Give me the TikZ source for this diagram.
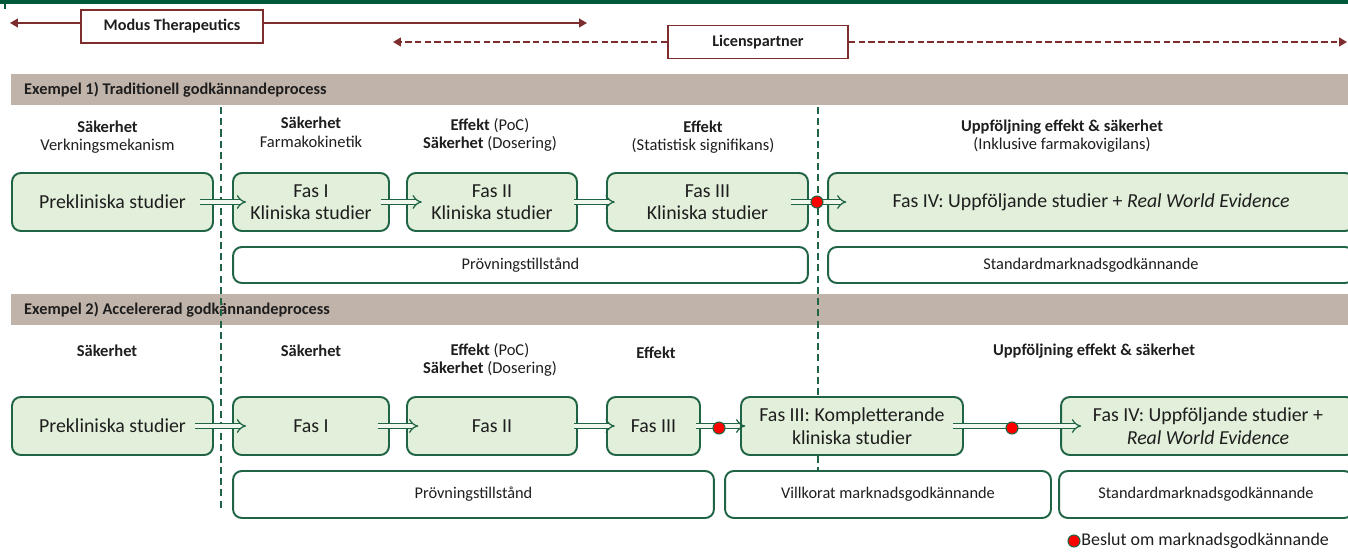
\documentclass[tikz,border=0pt]{standalone}
\usepackage{fontspec}
\setmainfont{Carlito}
\usetikzlibrary{arrows.meta, positioning, calc}
\definecolor{vertfonce}{RGB}{31,100,68}
\definecolor{vertclair}{RGB}{226,239,218}
\definecolor{bandecolor}{RGB}{192,179,169}
\definecolor{bordeaux}{RGB}{125,45,45}
\definecolor{titrecolor}{RGB}{0,88,58}
\definecolor{textecolor}{RGB}{30,30,30}

\begin{document}
\begin{tikzpicture}[x=0.02cm, y=-0.02cm, text=textecolor,
    fas/.style={draw=vertfonce, line width=1.1pt, fill=vertclair, rounded corners=5pt, minimum height=1.16cm, inner sep=0pt, align=center, font=\fontsize{11.3}{12.8}\selectfont},
    tillstand/.style={draw=vertfonce, line width=1.1pt, fill=white, rounded corners=5pt, inner sep=0pt, font=\fontsize{9.3}{11}\selectfont},
    rubrik/.style={align=center, font=\fontsize{9.4}{10.6}\selectfont},
    partbox/.style={draw=bordeaux, line width=0.8pt, fill=white, minimum width=3.64cm, minimum height=0.66cm, font=\fontsize{9.2}{11}\selectfont\bfseries},
    partpil/.style={draw=bordeaux, line width=0.9pt, -{Triangle[length=4.5pt, width=5pt]}},
    pil/.style={draw=vertfonce, line width=0.7pt, double=vertclair!50!white, double distance=2pt, -{Implies}},
    gransen/.style={draw=vertfonce, line width=1.1pt, dash pattern=on 4pt off 2.4pt},
    beslut/.style={circle, draw=vertfonce, line width=0.6pt, fill=red, minimum size=0.24cm, inner sep=0pt}]
    \useasboundingbox (0,0) rectangle (1348,551);

    % Titelrad (avskuren)
    \fill[titrecolor] (0,0) rectangle (1348,4);
    \fill[titrecolor] (4,0) rectangle (6,9);

    % === Aktörer ===
    \node[partbox] (modus) at (172,26.5) {Modus Therapeutics};
    \coordinate (modusV) at (10,23);
    \coordinate (modusH) at (587,23);
    \draw[partpil] (modus.west |- modusV) -- (modusV);
    \draw[partpil] (modus.east |- modusH) -- (modusH);

    \node[partbox, minimum width=3.6cm] (licens) at (758,42) {Licenspartner};
    \coordinate (licensV) at (393,42);
    \coordinate (licensH) at (1347,42);
    \draw[partpil, dash pattern=on 3.8pt off 1.8pt] (licens.west) -- (licensV);
    \draw[partpil, dash pattern=on 3.8pt off 1.8pt] (licens.east) -- (licensH);

    % Band
    \fill[bandecolor] (11,74) rectangle (1348,105);
    \node[anchor=west, font=\fontsize{9.3}{11}\selectfont\bfseries] (band1) at (18,90) {Exempel 1) Traditionell godkännandeprocess};
    \fill[bandecolor] (11,294) rectangle (1348,325);
    \node[anchor=west, font=\fontsize{9.3}{11}\selectfont\bfseries] (band2) at (18,310) {Exempel 2) Accelererad godkännandeprocess};

    % Streckade gränser
    \draw[gransen] (221,107) -- (221,511);
    \draw[gransen] (818,107) -- (818,471);

    % === Exempel 1 ===
    \node[rubrik] (h1a) at (107.5,137) {\textbf{Säkerhet}\\Verkningsmekanism};
    \node[rubrik] (h1b) at (311,132) {\textbf{Säkerhet}\\Farmakokinetik};
    \node[rubrik] (h1c) at (490,135) {\textbf{Effekt} (PoC)\\\textbf{Säkerhet} (Dosering)};
    \node[rubrik] (h1d) at (703,137) {\textbf{Effekt}\\(Statistisk signifikans)};
    \node[rubrik] (h1e) at (1062,136) {\textbf{Uppföljning effekt \& säkerhet}\\(Inklusive farmakovigilans)};

    \node[fas, minimum width=4.02cm] (prek1) at (112.5,202) {Prekliniska studier};
    \node[fas, minimum width=3.12cm] (fas1a) at (311,202) {Fas I\\Kliniska studier};
    \node[fas, minimum width=3.40cm] (fas2a) at (492,202) {Fas II\\Kliniska studier};
    \node[fas, minimum width=4.02cm] (fas3a) at (707.5,202) {Fas III\\Kliniska studier};
    \node[fas, minimum width=10.52cm] (fas4a) at (1091,202) {Fas IV: Uppföljande studier + \textit{Real World Evidence}};

    \node[tillstand, minimum width=11.5cm, minimum height=0.72cm] (prov1) at (520.5,265) {Prövningstillstånd};
    \node[tillstand, minimum width=10.52cm, minimum height=0.72cm] (std1) at (1091,265) {Standardmarknadsgodkännande};

    \draw[pil] ([xshift=-8pt]prek1.east) -- ([xshift=8pt]fas1a.west);
    \draw[pil] ([xshift=-5pt]fas1a.east) -- ([xshift=9pt]fas2a.west);
    \draw[pil] ([xshift=-2pt]fas2a.east) -- ([xshift=5pt]fas3a.west);
    \draw[pil] ([xshift=-10pt]fas3a.east) -- ([xshift=11pt]fas4a.west);
    \node[beslut] (d1) at (817,202) {};

    % === Exempel 2 ===
    \node[rubrik] (h2a) at (107,351) {\textbf{Säkerhet}};
    \node[rubrik] (h2b) at (311,351) {\textbf{Säkerhet}};
    \node[rubrik] (h2c) at (490,360) {\textbf{Effekt} (PoC)\\\textbf{Säkerhet} (Dosering)};
    \node[rubrik] (h2d) at (656,353) {\textbf{Effekt}};
    \node[rubrik] (h2e) at (1094,351) {\textbf{Uppföljning effekt \& säkerhet}};

    \node[fas, minimum width=4.02cm] (prek2) at (112.5,426) {Prekliniska studier};
    \node[fas, minimum width=3.12cm] (fas1b) at (311,426) {Fas I};
    \node[fas, minimum width=3.40cm] (fas2b) at (492,426) {Fas II};
    \node[fas, minimum width=1.86cm] (fas3b) at (653.5,426) {Fas III};
    \node[fas, minimum width=4.44cm] (komp) at (852,426) {Fas III: Kompletterande\\kliniska studier};
    \node[fas, minimum width=5.88cm] (fas4b) at (1208,426) {Fas IV: Uppföljande studier +\\\textit{Real World Evidence}};

    \node[tillstand, minimum width=9.62cm, minimum height=0.94cm] (prov2) at (473.5,494.5) {Prövningstillstånd};
    \node[tillstand, minimum width=6.52cm, minimum height=0.94cm] (villk) at (888,494.5) {Villkorat marknadsgodkännande};
    \node[tillstand, minimum width=5.88cm, minimum height=0.94cm] (std2) at (1206,494.5) {Standardmarknadsgodkännande};

    \draw[pil] ([xshift=-11pt]prek2.east) -- ([xshift=8pt]fas1b.west);
    \draw[pil] ([xshift=-7pt]fas1b.east) -- ([xshift=7pt]fas2b.west);
    \draw[pil] ([xshift=-2pt]fas2b.east) -- ([xshift=5pt]fas3b.west);
    \draw[pil] ([xshift=-3pt]fas3b.east) -- ([xshift=3pt]komp.west);
    \draw[pil] ([xshift=-6pt]komp.east) -- ([xshift=12pt]fas4b.west);
    \node[beslut] (d2) at (719,428) {};
    \node[beslut] (d3) at (1012,428) {};

    % Förklaring
    \node[beslut] (legdot) at (1074,541) {};
    \node[anchor=west, inner sep=0pt, font=\fontsize{10.2}{12}\selectfont] (legtxt) at (1081,541) {Beslut om marknadsgodkännande};
\end{tikzpicture}
\end{document}
